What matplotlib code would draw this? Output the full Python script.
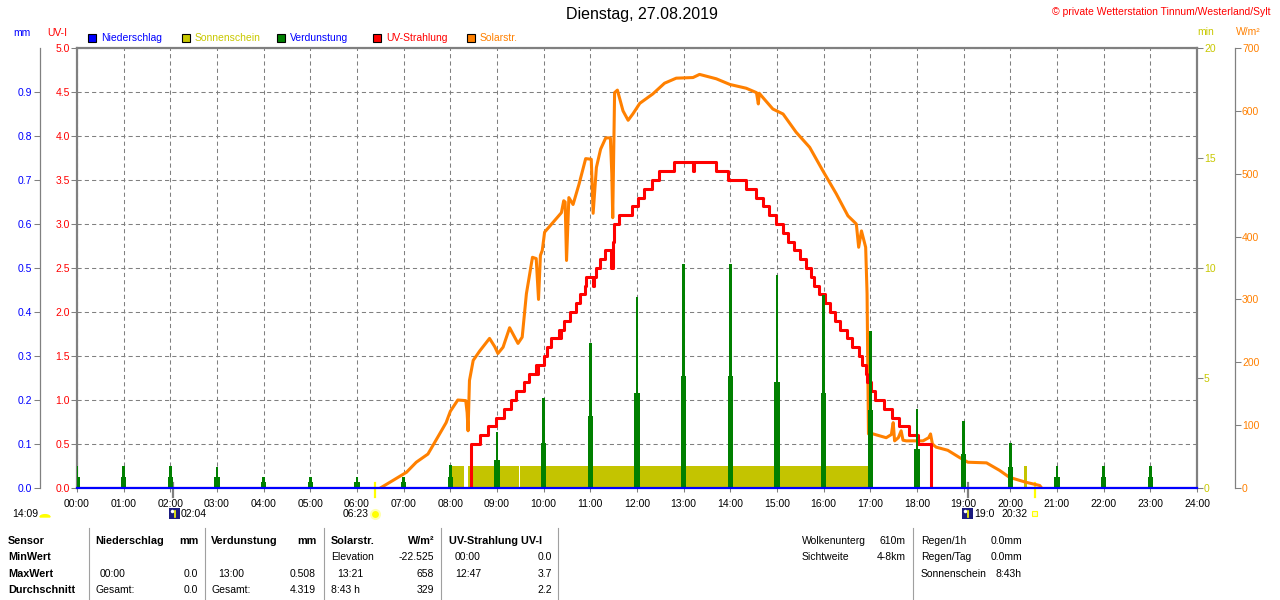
import matplotlib
matplotlib.use('Agg')
import matplotlib.pyplot as plt
from matplotlib.patches import Rectangle, Wedge
from matplotlib.lines import Line2D
from matplotlib.transforms import blended_transform_factory
import numpy as np

plt.rcParams['font.family'] = ['Liberation Sans', 'DejaVu Sans']

# ---------------- data ----------------
title = 'Dienstag, 27.08.2019'
hours = list(range(25))
hour_labels = [f'{h:02d}:00' for h in hours]

# Verdunstung (mm), hourly bars: tall thin part and wider lower part
evap_hours = list(range(24))
evap_peak = [0.051, 0.051, 0.051, 0.048, 0.024, 0.024, 0.024, 0.024, 0.052, 0.127, 0.205, 0.330,
             0.434, 0.508, 0.508, 0.484, 0.439, 0.357, 0.180, 0.152, 0.102, 0.050, 0.050, 0.050]
evap_low = [0.024, 0.024, 0.024, 0.024, 0.013, 0.013, 0.013, 0.013, 0.025, 0.064, 0.102, 0.164,
            0.216, 0.255, 0.255, 0.240, 0.216, 0.177, 0.089, 0.077, 0.048, 0.025, 0.025, 0.025]

# Niederschlag (mm)
precip_t = [0, 24]
precip_mm = [0.0, 0.0]

# Sonnenschein (min)
sun_start = [8.01, 8.38, 9.50, 20.29]
sun_end = [8.29, 9.48, 16.97, 20.36]
sun_min = [1.0, 1.0, 1.0, 1.0]

# UV-Strahlung (UV-I), step series
uv_t = [0, 8.436, 8.63, 8.807, 8.97, 9.15, 9.29, 9.415, 9.58, 9.685, 9.84, 9.86, 9.88, 10.0, 10.07,
        10.165, 10.33, 10.36, 10.38, 10.43, 10.556, 10.686, 10.77, 10.89, 10.915, 11.05, 11.08, 11.13,
        11.215, 11.31, 11.45, 11.48, 11.5, 11.61, 11.9, 12.02, 12.14, 12.33, 12.48, 12.79, 13.2, 13.23,
        13.69, 13.95, 14.34, 14.54, 14.69, 14.83, 14.97, 15.13, 15.24, 15.36, 15.49, 15.62, 15.72, 15.79,
        15.9, 16.02, 16.14, 16.24, 16.36, 16.5, 16.6, 16.75, 16.83, 16.9, 16.93, 17.02, 17.09, 17.29,
        17.47, 17.61, 17.83, 18.02, 18.3, 24]
uv_v = [0.0, 0.5, 0.6, 0.7, 0.8, 0.9, 1.0, 1.1, 1.2, 1.3, 1.4, 1.3, 1.4, 1.5, 1.6,
        1.7, 1.8, 1.7, 1.8, 1.9, 2.0, 2.1, 2.2, 2.3, 2.4, 2.3, 2.4, 2.5,
        2.6, 2.7, 2.5, 2.8, 3.0, 3.1, 3.2, 3.3, 3.4, 3.5, 3.6, 3.7, 3.6, 3.7,
        3.6, 3.5, 3.4, 3.3, 3.2, 3.1, 3.0, 2.9, 2.8, 2.7, 2.6, 2.5, 2.4, 2.3,
        2.2, 2.1, 2.0, 1.9, 1.8, 1.7, 1.6, 1.5, 1.4, 1.3, 1.2, 1.1, 1.0, 0.9,
        0.8, 0.7, 0.6, 0.5, 0.0, 0.0]

# Solarstrahlung (W/m²)
solar_t = [6.5, 6.77, 7.06, 7.27, 7.52, 7.77, 7.91, 8.0, 8.16, 8.33, 8.36, 8.38, 8.41, 8.49, 8.63,
           8.84, 8.95, 9.02, 9.13, 9.27, 9.45, 9.54, 9.63, 9.76, 9.84, 9.89, 9.93, 9.97, 10.02, 10.38,
           10.43, 10.46, 10.49, 10.54, 10.63, 10.76, 10.9, 11.02, 11.06, 11.13, 11.22, 11.33, 11.43,
           11.46, 11.48, 11.52, 11.58, 11.7, 11.81, 11.91, 12.06, 12.34, 12.59, 12.84, 13.2, 13.34,
           13.7, 13.99, 14.34, 14.56, 14.6, 14.62, 14.7, 14.91, 15.13, 15.41, 15.7, 15.98, 16.27,
           16.52, 16.7, 16.75, 16.81, 16.9, 16.93, 16.96, 17.06, 17.34, 17.45, 17.49, 17.52, 17.6,
           17.66, 17.7, 17.77, 18.13, 18.25, 18.29, 18.33, 18.41, 18.66, 18.9, 19.09, 19.49, 19.77,
           19.98, 20.34, 20.63, 20.67]
solar_w = [0, 12, 25, 41, 54, 86, 104, 122, 140, 139, 120, 91, 171, 203, 218,
           238, 225, 214, 224, 255, 230, 240, 309, 367, 365, 300, 370, 378, 407, 438,
           457, 455, 362, 462, 451, 484, 524, 523, 437, 510, 539, 557, 557,
           500, 430, 629, 633, 600, 585, 595, 612, 627, 644, 652, 653, 658,
           651, 642, 636, 629, 611, 628, 621, 603, 595, 566, 542, 505, 468,
           433, 420, 383, 409, 383, 309, 86, 86, 80, 85, 104, 75, 80,
           91, 76, 75, 75, 80, 86, 70, 65, 60, 49, 41, 40, 28,
           17, 9, 4, 0]

# Events below the time axis
event_times = [2 + 4 / 60, 6 + 23 / 60, 19 + 5 / 60, 20 + 32 / 60]
event_colors = ['#808080', '#FFFF00', '#808080', '#FFFF00']

# ---------------- style ----------------
BLUE = '#0000FF'
RED = '#FF0000'
GREEN = '#008000'
OLIVE = '#C8C800'
ORANGE = '#FF8000'
GRAY = '#808080'
FS = 7.5
W, H = 1280, 600


def fx(x):
    return x / W


def fy(y):
    return 1 - y / H


fig = plt.figure(figsize=(12.8, 6), dpi=100, facecolor='white')
rect = [fx(77), fy(488), 1120 / W, 440 / H]

ax = fig.add_axes(rect)
ax.set_xlim(0, 24)
ax.set_ylim(0, 5)
ax.set_xticks(hours)
ax.set_xticklabels(hour_labels, fontsize=FS)
ax.set_yticks(np.arange(0, 5.01, 0.5))
ax.set_yticklabels([f'{v:.1f}' for v in np.arange(0, 5.01, 0.5)], fontsize=FS, color=RED)
ax.tick_params(axis='x', length=3, width=0.75, color=GRAY, pad=5)
ax.tick_params(axis='y', length=4, width=0.75, color=GRAY, pad=1)
ax.grid(True, color=GRAY, lw=0.75, ls=(0, (4, 3)))
for s in ['top', 'left']:
    ax.spines[s].set_color(GRAY)
    ax.spines[s].set_linewidth(1.6)
ax.spines['right'].set_visible(False)
ax.spines['bottom'].set_visible(False)
ax.set_zorder(0)

# Sonnenschein axis (min)
ax_min = ax.twinx()
ax_min.set_ylim(0, 20)
ax_min.bar(sun_start, sun_min, width=np.subtract(sun_end, sun_start), align='edge',
           color='#C4C400', linewidth=0)
for s in ['top', 'left', 'bottom']:
    ax_min.spines[s].set_visible(False)
ax_min.spines['right'].set_color(GRAY)
ax_min.spines['right'].set_linewidth(1.6)
ax_min.set_yticks([0, 5, 10, 15, 20])
ax_min.set_yticklabels(['0', '5', '10', '15', '20'], fontsize=FS, color=OLIVE)
ax_min.tick_params(axis='y', length=4, width=0.75, color=GRAY, pad=1)
ax_min.set_zorder(1)

# Solar axis (W/m²)
ax_w = ax.twinx()
ax_w.set_ylim(0, 700)
ax_w.plot(solar_t, solar_w, color=ORANGE, lw=2.2, solid_joinstyle='round')
for s in ['top', 'left', 'bottom']:
    ax_w.spines[s].set_visible(False)
ax_w.spines['right'].set_position(('outward', 38 * 0.72))
ax_w.spines['right'].set_color(GRAY)
ax_w.spines['right'].set_linewidth(0.9)
ax_w.set_yticks(range(0, 701, 100))
ax_w.set_yticklabels([str(v) for v in range(0, 701, 100)], fontsize=FS, color=ORANGE)
ax_w.tick_params(axis='y', length=4, width=0.75, color=GRAY, pad=1)
ax_w.set_zorder(2)

# UV axis
ax_uv = ax.twinx()
ax_uv.set_ylim(0, 5)
ax_uv.plot(uv_t, uv_v, drawstyle='steps-post', color=RED, lw=2.2)
ax_uv.set_yticks([])
for s in ax_uv.spines.values():
    s.set_visible(False)
ax_uv.set_zorder(3)

# mm axis (Verdunstung, Niederschlag)
ax_mm = ax.twinx()
ax_mm.set_ylim(0, 1)
ax_mm.bar(evap_hours, evap_peak, width=0.064, color=GREEN, linewidth=0)
ax_mm.bar(evap_hours, evap_low, width=0.11, color=GREEN, linewidth=0)
ax_mm.plot(precip_t, precip_mm, drawstyle='steps-post', color=BLUE, lw=1.6, clip_on=False)
for s in ['top', 'right', 'bottom']:
    ax_mm.spines[s].set_visible(False)
ax_mm.spines['left'].set_visible(True)
ax_mm.spines['left'].set_position(('outward', 37 * 0.72))
ax_mm.spines['left'].set_color(GRAY)
ax_mm.spines['left'].set_linewidth(0.9)
ax_mm.yaxis.tick_left()
ax_mm.set_yticks(np.arange(0, 0.91, 0.1))
ax_mm.set_yticklabels([f'{v:.1f}' for v in np.arange(0, 0.91, 0.1)], fontsize=FS, color=BLUE)
ax_mm.tick_params(axis='y', length=4, width=0.75, color=GRAY, pad=2)
ax_mm.set_zorder(4)
ax_mm.set_xlim(0, 24)

# ---------------- texts ----------------
fig.text(fx(642), fy(15), title, ha='center', va='center', fontsize=11.5)
fig.text(fx(1270), fy(12), '© private Wetterstation Tinnum/Westerland/Sylt', ha='right',
         va='center', fontsize=FS, color=RED)
fig.text(fx(22), fy(33), 'mm', ha='center', va='center', fontsize=FS, color=BLUE)
fig.text(fx(57), fy(33), 'UV-I', ha='center', va='center', fontsize=FS, color=RED)
fig.text(fx(1206), fy(32), 'min', ha='center', va='center', fontsize=FS, color=OLIVE)
fig.text(fx(1248), fy(32), 'W/m²', ha='center', va='center', fontsize=FS, color=ORANGE)

legend_items = [('Niederschlag', BLUE, BLUE, 88), ('Sonnenschein', OLIVE, OLIVE, 182),
                ('Verdunstung', GREEN, BLUE, 277), ('UV-Strahlung', RED, RED, 373),
                ('Solarstr.', ORANGE, ORANGE, 467)]
for name, fc, tc, x0 in legend_items:
    fig.add_artist(Rectangle((fx(x0), fy(42)), 8 / W, 8 / H, transform=fig.transFigure,
                             facecolor=fc, edgecolor='black', lw=0.8))
    fig.text(fx(x0 + 13), fy(38), name, ha='left', va='center', fontsize=FS, color=tc)

# events under axis
blend = blended_transform_factory(ax.transData, fig.transFigure)
for t, c in zip(event_times, event_colors):
    fig.add_artist(Line2D([t, t], [fy(483), fy(497)], transform=blend, color=c, lw=1.6))

fig.text(fx(38), fy(514), '14:09', ha='right', va='center', fontsize=FS)
fig.add_artist(Wedge((fx(45), fy(517)), 5 / W, 0, 180, transform=fig.transFigure, color='#FFFF00'))
# moon icons
for x0, lab in [(169, '02:04'), (962, '19:0')]:
    fig.add_artist(Rectangle((fx(x0), fy(519)), 11 / W, 11 / H, transform=fig.transFigure,
                             facecolor='#1C1C80', edgecolor='none'))
    fig.add_artist(Line2D([fx(x0 + 2.5)], [fy(511)], transform=fig.transFigure, marker='o',
                          ms=2.5, color='white', mec='none'))
    fig.add_artist(Line2D([fx(x0 + 6), fx(x0 + 6)], [fy(517), fy(511)], transform=fig.transFigure,
                          color='#FFFF00', lw=1.2))
    fig.text(fx(x0 + 12), fy(514), lab, ha='left', va='center', fontsize=FS)
fig.text(fx(369), fy(514), '06:23', ha='right', va='center', fontsize=FS)
fig.add_artist(Line2D([fx(375)], [fy(514)], transform=fig.transFigure, marker='o', ms=8,
                      color='#FFFFB0', mec='none'))
fig.add_artist(Line2D([fx(375)], [fy(514)], transform=fig.transFigure, marker='o', ms=5,
                      color='#FFFF00', mec='none'))
fig.text(fx(1001), fy(514), '20:32', ha='left', va='center', fontsize=FS)
fig.add_artist(Rectangle((fx(1032), fy(516)), 5 / W, 5 / H, transform=fig.transFigure,
                         facecolor='#FFFFC0', edgecolor='#FFFF00', lw=0.8))

# ---------------- table ----------------
rows_y = [541, 557, 574, 590]
for x in [89, 205, 324, 441, 558, 913]:
    fig.add_artist(Line2D([fx(x), fx(x)], [fy(528), fy(600)], transform=fig.transFigure,
                          color='#A0A0A0', lw=0.8))

bold_cells = [(8, 0, 'Sensor', 'left'), (8, 1, 'MinWert', 'left'), (8, 2, 'MaxWert', 'left'),
              (8, 3, 'Durchschnitt', 'left'),
              (95, 0, 'Niederschlag', 'left'), (198, 0, 'mm', 'right'),
              (211, 0, 'Verdunstung', 'left'), (316, 0, 'mm', 'right'),
              (331, 0, 'Solarstr.', 'left'), (434, 0, 'W/m²', 'right'),
              (449, 0, 'UV-Strahlung UV-I', 'left')]
for x, r, s, ha in bold_cells:
    fig.text(fx(x), fy(rows_y[r]), s, ha=ha, va='center', fontsize=FS + 0.3, fontweight='bold')

cells = [(331, 1, 'Elevation', 'left'), (434, 1, '-22.525', 'right'), (455, 1, '00:00', 'left'),
         (552, 1, '0.0', 'right'),
         (100, 2, '00:00', 'left'), (198, 2, '0.0', 'right'), (218, 2, '13:00', 'left'),
         (316, 2, '0.508', 'right'), (337, 2, '13:21', 'left'), (434, 2, '658', 'right'),
         (455, 2, '12:47', 'left'), (552, 2, '3.7', 'right'),
         (95, 3, 'Gesamt:', 'left'), (198, 3, '0.0', 'right'), (211, 3, 'Gesamt:', 'left'),
         (316, 3, '4.319', 'right'), (331, 3, '8:43 h', 'left'), (434, 3, '329', 'right'),
         (552, 3, '2.2', 'right'),
         (802, 0, 'Wolkenunterg', 'left'), (906, 0, '610m', 'right'),
         (802, 1, 'Sichtweite', 'left'), (906, 1, '4-8km', 'right'),
         (921, 0, 'Regen/1h', 'left'), (1022, 0, '0.0mm', 'right'),
         (921, 1, 'Regen/Tag', 'left'), (1022, 1, '0.0mm', 'right'),
         (921, 2, 'Sonnenschein', 'left'), (1022, 2, '8:43h', 'right')]
for x, r, s, ha in cells:
    fig.text(fx(x), fy(rows_y[r]), s, ha=ha, va='center', fontsize=FS)

fig.savefig('out.png', dpi=100, facecolor='white')
